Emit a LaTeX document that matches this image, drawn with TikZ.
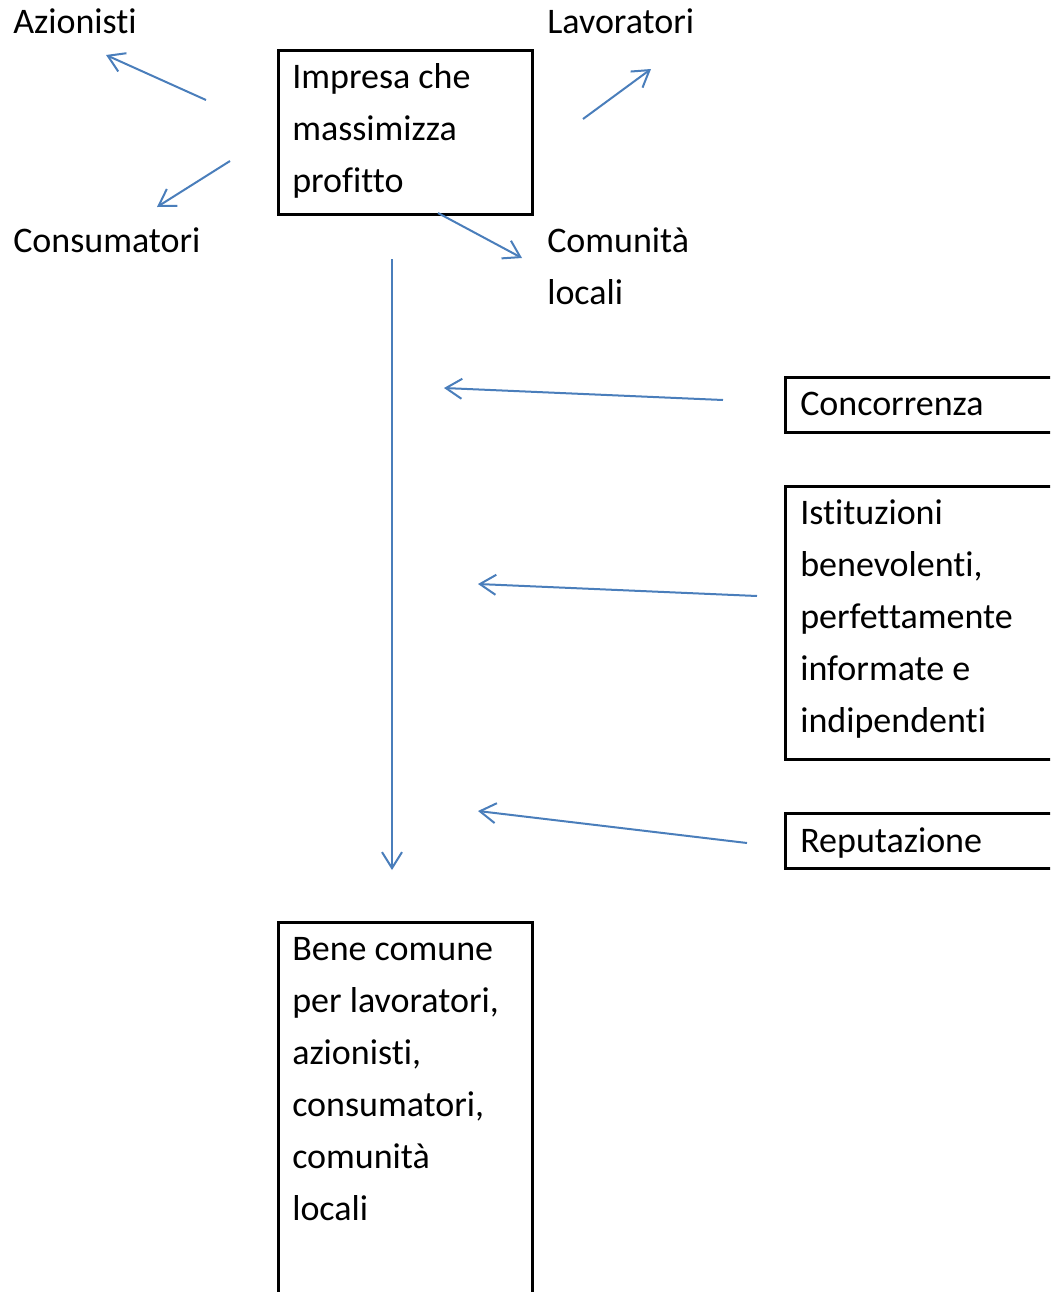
\documentclass[tikz,border=0pt]{standalone}
\usepackage{fontspec}
\setmainfont{Carlito}[Ligatures=NoCommon]
\usetikzlibrary{arrows.meta,positioning}
\definecolor{linkblue}{RGB}{74,126,187}

\begin{document}
\begin{tikzpicture}[x=0.75pt,y=-0.75pt,
 flow/.style={draw=linkblue,line width=1.5pt,
 -{Straight Barb[length=12pt,width=15pt]}},
 frame/.style={draw=black,line width=1.9pt,anchor=north west,inner sep=0pt},
 lab/.style={font=\fontsize{27pt}{39pt}\selectfont,anchor=base west,
 inner sep=0pt,align=flush left,text width=200pt}]
\useasboundingbox (0,0) rectangle (1050,1292);
\clip (0,0) rectangle (1050,1292);
% boxes
\node[frame,minimum width=190.5pt,minimum height=123pt] (impresa) at (277,49) {};
\node[frame,minimum width=225pt,minimum height=41.25pt] (conc) at (784,376) {};
\node[frame,minimum width=225pt,minimum height=204.75pt] (ist) at (784,485) {};
\node[frame,minimum width=225pt,minimum height=41.25pt] (rep) at (784,812) {};
\node[frame,minimum width=190.5pt,minimum height=315pt] (bene) at (277,921) {};
\node[lab] (impresa-t) at ([shift={(15,39)}]impresa.north west)
 {Impresa che\\massimizza\\profitto};
\node[lab] (conc-t) at ([shift={(16,39)}]conc.north west) {Concorrenza};
\node[lab] (ist-t) at ([shift={(16,39)}]ist.north west)
 {Istituzioni\\benevolenti,\\perfettamente\\informate e\\indipendenti};
\node[lab] (rep-t) at ([shift={(16,40)}]rep.north west) {Reputazione};
\node[lab] (bene-t) at ([shift={(15,39)}]bene.north west)
 {Bene comune\\per lavoratori,\\azionisti,\\consumatori,\\comunità\\locali};
% stakeholders
\node[lab] (azion) at (13,33) {Azionisti};
\node[lab] (lavor) at (547,33) {Lavoratori};
\node[lab] (consum) at (13,252) {Consumatori};
\node[lab] (comun) at (547,252) {Comunità\\locali};
% arrow ends
\coordinate (az-s) at (206,100); \coordinate (az-e) at (106,55);
\coordinate (co-s) at (230,161); \coordinate (co-e) at (157,207);
\coordinate (la-s) at (583,119); \coordinate (la-e) at (651,69);
\coordinate (cl-s) at (438,213); \coordinate (cl-e) at (522,258);
\coordinate (bc-s) at (392,259); \coordinate (bc-e) at (392,870);
\coordinate (cc-s) at (723,400); \coordinate (cc-e) at (444,388);
\coordinate (is-s) at (757,596); \coordinate (is-e) at (478,584);
\coordinate (rp-s) at (747,843); \coordinate (rp-e) at (478,811);
\foreach \a in {az,co,la,cl,bc,cc,is,rp}
 \draw[flow] (\a-s)--(\a-e);
\end{tikzpicture}
\end{document}
